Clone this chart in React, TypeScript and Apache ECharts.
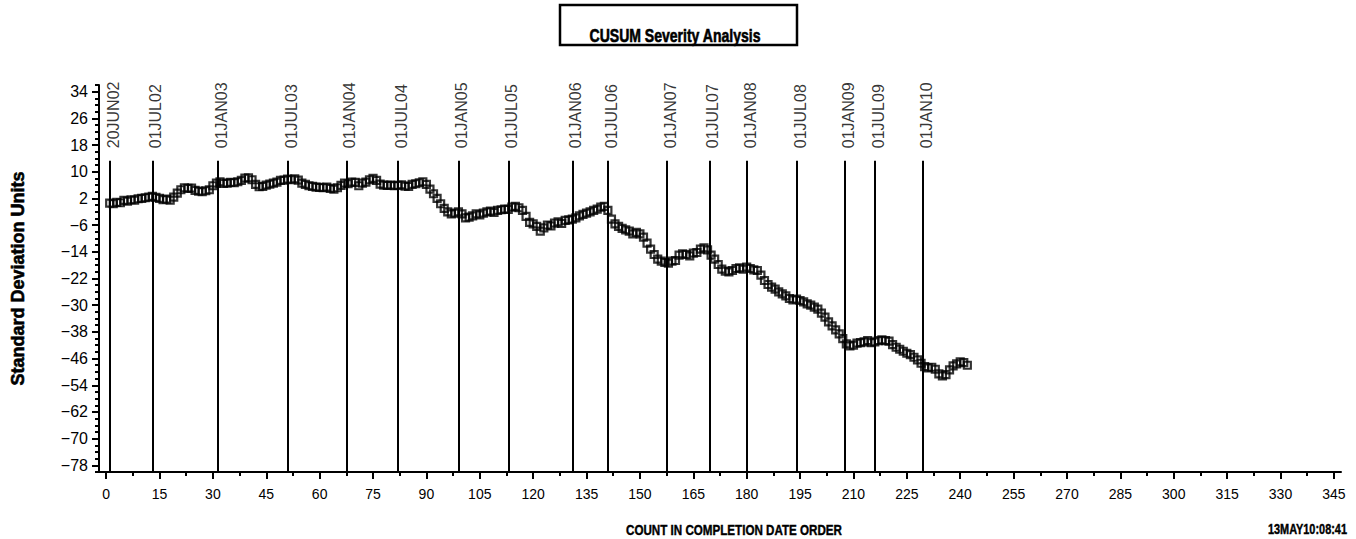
import React, { useEffect, useRef } from "react";
import * as echarts from "echarts";

// CUSUM values, one per record (count 1..242)
const cusumValues: number[] = [
  0.6, 0.4, 0.8, 0.7, 1.4, 1.2, 1.6, 1.5, 1.9, 2.0,
  2.2, 2.4, 2.6, 2.3, 2.0, 1.6, 1.8, 1.5, 2.4, 3.6,
  4.6, 5.2, 5.0, 5.1, 4.4, 4.2, 4.0, 4.3, 4.6, 5.8,
  6.6, 7.0, 6.5, 6.6, 6.8, 6.7, 7.0, 7.4, 8.1, 8.2,
  7.6, 6.2, 5.5, 5.6, 6.0, 6.3, 6.6, 6.9, 7.4, 7.5,
  7.8, 7.6, 7.9, 7.5, 6.6, 6.2, 5.8, 5.6, 5.4, 5.3,
  5.2, 5.4, 5.0, 4.8, 5.2, 5.9, 6.6, 6.4, 6.9, 6.8,
  5.8, 6.6, 6.9, 7.6, 8.0, 7.4, 6.3, 6.0, 5.9, 6.0,
  5.8, 5.9, 6.1, 5.7, 5.6, 6.2, 6.4, 6.7, 7.0, 6.2,
  4.8, 3.4, 2.0, 0.4, -1.0, -2.0, -2.6, -2.4, -2.0, -2.6,
  -3.8, -3.6, -3.2, -2.6, -2.9, -2.4, -2.0, -1.8, -2.2, -1.6,
  -1.4, -1.2, -1.3, -0.6, -0.4, -0.8, -1.6, -3.4, -5.2, -5.6,
  -6.4, -7.8, -6.8, -6.0, -6.2, -5.4, -5.0, -5.5, -4.6, -4.4,
  -4.2, -3.8, -3.2, -2.8, -2.4, -2.0, -1.6, -1.2, -0.6, -0.4,
  -1.6, -4.2, -5.6, -6.4, -7.0, -7.4, -7.8, -8.6, -8.2, -8.6,
  -9.6, -11.4, -13.2, -14.8, -16.2, -16.8, -17.2, -17.4, -16.8, -16.6,
  -15.0, -14.6, -14.8, -15.2, -14.4, -14.2, -13.2, -12.8, -13.4, -15.0,
  -16.2, -17.8, -19.2, -19.8, -20.0, -19.6, -19.0, -18.8, -19.2, -18.6,
  -19.0, -19.4, -19.6, -21.0, -22.6, -23.8, -24.6, -25.2, -26.0, -26.6,
  -27.2, -28.0, -28.4, -28.2, -28.6, -29.0, -29.6, -30.0, -30.6, -31.2,
  -32.4, -33.6, -35.0, -36.2, -37.4, -38.6, -40.0, -41.6, -42.2, -42.0,
  -41.4, -41.2, -41.0, -40.6, -41.2, -41.0, -40.6, -40.4, -40.6, -40.8,
  -41.8, -42.6, -43.2, -43.8, -44.4, -44.8, -45.6, -46.4, -47.4, -48.4,
  -48.8, -48.6, -49.2, -50.6, -51.2, -50.8, -49.4, -48.2, -47.6, -47.0,
  -47.2, -48.0,
];

// Reference dates and the record count at which each falls
const refDates: string[] = [
  "20JUN02", "01JUL02", "01JAN03", "01JUL03", "01JAN04", "01JUL04",
  "01JAN05", "01JUL05", "01JAN06", "01JUL06", "01JAN07", "01JUL07",
  "01JAN08", "01JUL08", "01JAN09", "01JUL09", "01JAN10",
];
const refCounts: number[] = [
  1, 13, 31.5, 51, 67.5, 82, 99, 113, 131, 141, 157.5, 169.5, 180, 194, 207.5, 216, 229.5,
];

// Tick labels
const xTickLabels: number[] = [
  0, 15, 30, 45, 60, 75, 90, 105, 120, 135, 150, 165, 180, 195, 210, 225,
  240, 255, 270, 285, 300, 315, 330, 345,
];
const yTickLabels: number[] = [
  -78, -70, -62, -54, -46, -38, -30, -22, -14, -6, 2, 10, 18, 26, 34,
];

const chartTitle = "CUSUM Severity Analysis";
const xTitle = "COUNT IN COMPLETION DATE ORDER";
const yTitle = "Standard Deviation Units";
const stamp = "13MAY10:08:41";

const X_MIN = -2;
const X_MAX = 347;
const Y_MIN = -80;
const Y_MAX = 36;
const REF_TOP = 13.3;

const SANS = "'Liberation Sans', Arial, sans-serif";

export default function App() {
  const ref = useRef<HTMLDivElement>(null);

  useEffect(() => {
    if (!ref.current) return;
    const chart = echarts.init(ref.current, undefined, { renderer: "svg" });

    const xMinor: number[] = [];
    for (let i = 0; i < xTickLabels.length - 1; i++) {
      xMinor.push((xTickLabels[i] + xTickLabels[i + 1]) / 2);
    }
    const yMinor: number[] = [];
    for (let v = Y_MIN; v <= Y_MAX; v += 2) {
      if (!yTickLabels.includes(v)) yMinor.push(v);
    }

    const black = "#000";
    const option: any = {
      animation: false,
      backgroundColor: "#fff",
      grid: { left: 99, right: 15, top: 85, bottom: 67, containLabel: false },
      xAxis: [
        {
          type: "value",
          min: X_MIN,
          max: X_MAX,
          position: "bottom",
          axisLine: { show: true, onZero: false, lineStyle: { color: black, width: 2 } },
          axisTick: { show: true, customValues: xTickLabels, length: 7, lineStyle: { color: black, width: 2 } },
          axisLabel: {
            show: true,
            customValues: xTickLabels,
            color: black,
            fontFamily: SANS,
            fontSize: 14,
            margin: 15,
          },
          splitLine: { show: false },
        },
        {
          type: "value",
          min: X_MIN,
          max: X_MAX,
          position: "bottom",
          axisLine: { show: false, onZero: false },
          axisTick: { show: true, customValues: xMinor, length: 4, lineStyle: { color: black, width: 2 } },
          axisLabel: { show: false },
          splitLine: { show: false },
        },
      ],
      yAxis: [
        {
          type: "value",
          min: Y_MIN,
          max: Y_MAX,
          position: "left",
          axisLine: { show: true, onZero: false, lineStyle: { color: black, width: 2 } },
          axisTick: { show: true, customValues: yTickLabels, length: 7, lineStyle: { color: black, width: 2 } },
          axisLabel: {
            show: true,
            customValues: yTickLabels,
            color: black,
            fontFamily: SANS,
            fontSize: 16,
            margin: 11,
            formatter: (v: number) => (v < 0 ? "\u2212" + Math.abs(v) : String(v)),
          },
          splitLine: { show: false },
          name: yTitle,
          nameLocation: "middle",
          nameGap: 72,
          nameTextStyle: {
            color: black,
            fontFamily: SANS,
            fontWeight: "bold",
            fontSize: 18,
            textBorderColor: black,
            textBorderWidth: 0.6,
          },
        },
        {
          type: "value",
          min: Y_MIN,
          max: Y_MAX,
          position: "left",
          axisLine: { show: false, onZero: false },
          axisTick: { show: true, customValues: yMinor, length: 4, lineStyle: { color: black, width: 2 } },
          axisLabel: { show: false },
          splitLine: { show: false },
        },
      ],
      series: [
        {
          name: "Reference dates",
          type: "scatter",
          xAxisIndex: 0,
          yAxisIndex: 0,
          symbolSize: 1,
          itemStyle: { color: "rgba(0,0,0,0)" },
          data: refCounts.map((c, i) => ({ name: refDates[i], value: [c, REF_TOP] })),
          label: {
            show: true,
            formatter: "{b}",
            rotate: 90,
            position: [4, -12],
            align: "left",
            verticalAlign: "middle",
            color: black,
            fontFamily: SANS,
            fontSize: 16,
          },
          markLine: {
            silent: true,
            symbol: "none",
            label: { show: false },
            lineStyle: { color: black, width: 2, type: "solid" },
            data: refCounts.map((c) => [{ coord: [c, Y_MIN] }, { coord: [c, REF_TOP] }]),
          },
          z: 2,
        },
        {
          name: "CUSUM",
          type: "scatter",
          xAxisIndex: 0,
          yAxisIndex: 0,
          symbol: "rect",
          symbolSize: 7,
          itemStyle: { color: "rgba(0,0,0,0)", borderColor: black, borderWidth: 2.2 },
          data: cusumValues.map((v, i) => [i + 1, v]),
          z: 3,
        },
      ],
      graphic: [
        {
          type: "rect",
          shape: { x: 560, y: 5, width: 237, height: 40 },
          style: { fill: "#fff", stroke: black, lineWidth: 2.5 },
        },
        {
          type: "text",
          x: 675,
          y: 35,
          scaleX: 0.78,
          style: {
            text: chartTitle,
            fill: black,
            stroke: black,
            lineWidth: 0.6,
            fontFamily: SANS,
            fontWeight: "bold",
            fontSize: 18,
            align: "center",
            verticalAlign: "middle",
          },
        },
        {
          type: "text",
          x: 734,
          y: 530,
          scaleX: 0.83,
          style: {
            text: xTitle,
            fill: black,
            stroke: black,
            lineWidth: 0.4,
            fontFamily: SANS,
            fontWeight: "bold",
            fontSize: 14,
            align: "center",
            verticalAlign: "middle",
          },
        },
        {
          type: "text",
          x: 1347,
          y: 530,
          scaleX: 0.78,
          style: {
            text: stamp,
            fill: black,
            stroke: black,
            lineWidth: 0.4,
            fontFamily: SANS,
            fontWeight: "bold",
            fontSize: 14,
            align: "right",
            verticalAlign: "middle",
          },
        },
      ],
    };

    chart.setOption(option);
    return () => chart.dispose();
  }, []);

  return (
    <div
      ref={ref}
      style={{ position: "fixed", left: 0, top: 0, width: 1356, height: 539, background: "#fff" }}
    />
  );
}
